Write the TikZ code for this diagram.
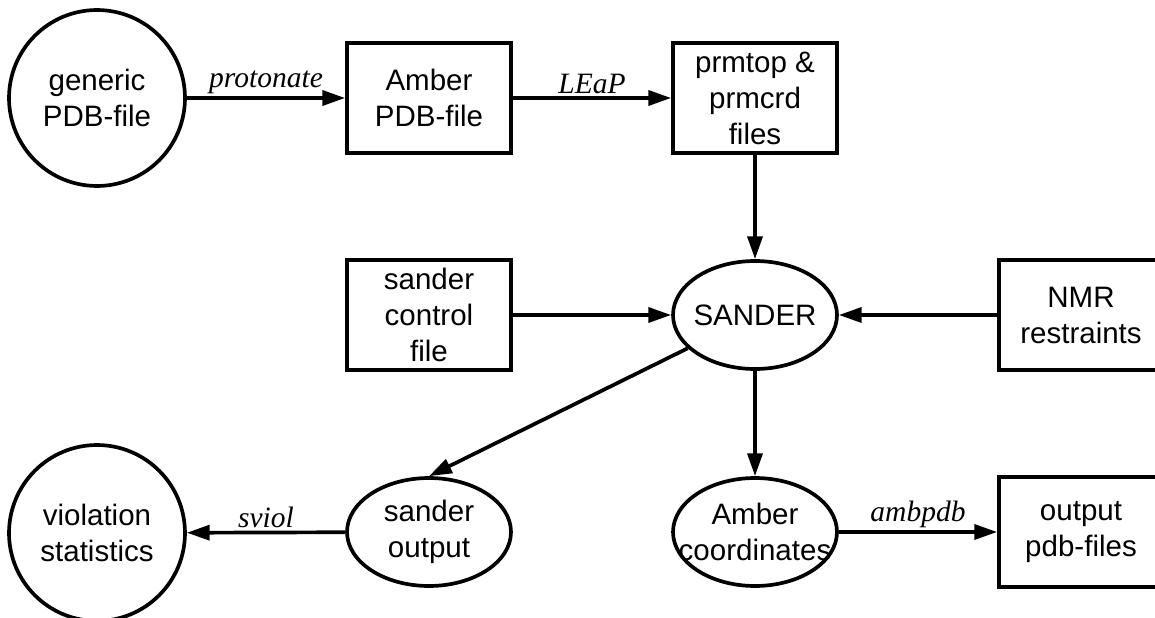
\documentclass[tikz,border=0pt]{standalone}
\usepackage{fontspec}
\setmainfont{Liberation Sans}
\newfontfamily\tsSerif{Liberation Serif}
\usepackage{tikz}
\usetikzlibrary{shapes,arrows.meta,calc}
\tikzstyle{tsText} = [
    text=black,
    font=\fontsize{16.8}{20.5}\selectfont,
    align=center
]
\tikzstyle{tsRectangle} = [
    rectangle,
    tsText,
    draw=black,
    line width=2.1pt,
    minimum width=3.28cm,
    minimum height=2.2cm,
    inner sep=0pt]
\tikzstyle{tsCircle} = [
    circle,
    tsText,
    draw=black,
    line width=2.1pt,
    minimum size=3.52cm,
    inner sep=0pt]
\tikzstyle{tsEllipse} = [
    ellipse,
    tsText,
    draw=black,
    line width=2.1pt,
    minimum width=3.28cm,
    minimum height=2.16cm,
    inner xsep=-0.4cm,
    inner ysep=0pt]
\tikzstyle{tsArrow} = [
    -{Triangle[length=13pt,width=8.5pt]},
    line width=2.1pt
]
\tikzstyle{tsLabel} = [
    text=black,
    font=\tsSerif\itshape\fontsize{16.8}{20.5}\selectfont,
    inner sep=1.5pt,
    above
]

\begin{document}
\begin{tikzpicture}[x=0.02cm, y=-0.02cm]

        \useasboundingbox (0,0) rectangle (1155,618);

        % Top row: input files
        \node[tsCircle] (generic) at (97,98) {generic\\PDB-file};
        \node[tsRectangle] (amberPdb) at (429,98) {Amber\\PDB-file};
        \node[tsRectangle] (prmtop) at (755,98) {prmtop \&\\prmcrd\\files};

        % Middle row: the run itself
        \node[tsRectangle] (control) at (429,315) {sander\\control\\file};
        \node[tsEllipse] (sander) at (755,315) {SANDER};
        \node[tsRectangle] (nmr) at (1081,315) {NMR\\restraints};

        % Bottom row: results
        \node[tsCircle] (violation) at (97,533) {violation\\statistics};
        \node[tsEllipse] (sanderOut) at (429,532) {sander\\output};
        \node[tsEllipse] (amberCrd) at (755,532) {Amber\\coordinates};
        \node[tsRectangle] (pdbOut) at (1081,532) {output\\pdb-files};

        % Connecting arrows
        \draw[tsArrow] (generic) -- node[tsLabel] {protonate} (amberPdb);
        \draw[tsArrow] (amberPdb) -- node[tsLabel] {LEaP} (prmtop);
        \draw[tsArrow] (prmtop) -- (sander);
        \draw[tsArrow] (control) -- (sander);
        \draw[tsArrow] (nmr) -- (sander);
        \draw[tsArrow] (sander) -- (sanderOut.north);
        \draw[tsArrow] (sander) -- (amberCrd);
        \draw[tsArrow] (sanderOut) -- node[tsLabel] {sviol} (violation);
        \draw[tsArrow] (amberCrd) -- node[tsLabel] {ambpdb} (pdbOut);

    \end{tikzpicture}
\end{document}
